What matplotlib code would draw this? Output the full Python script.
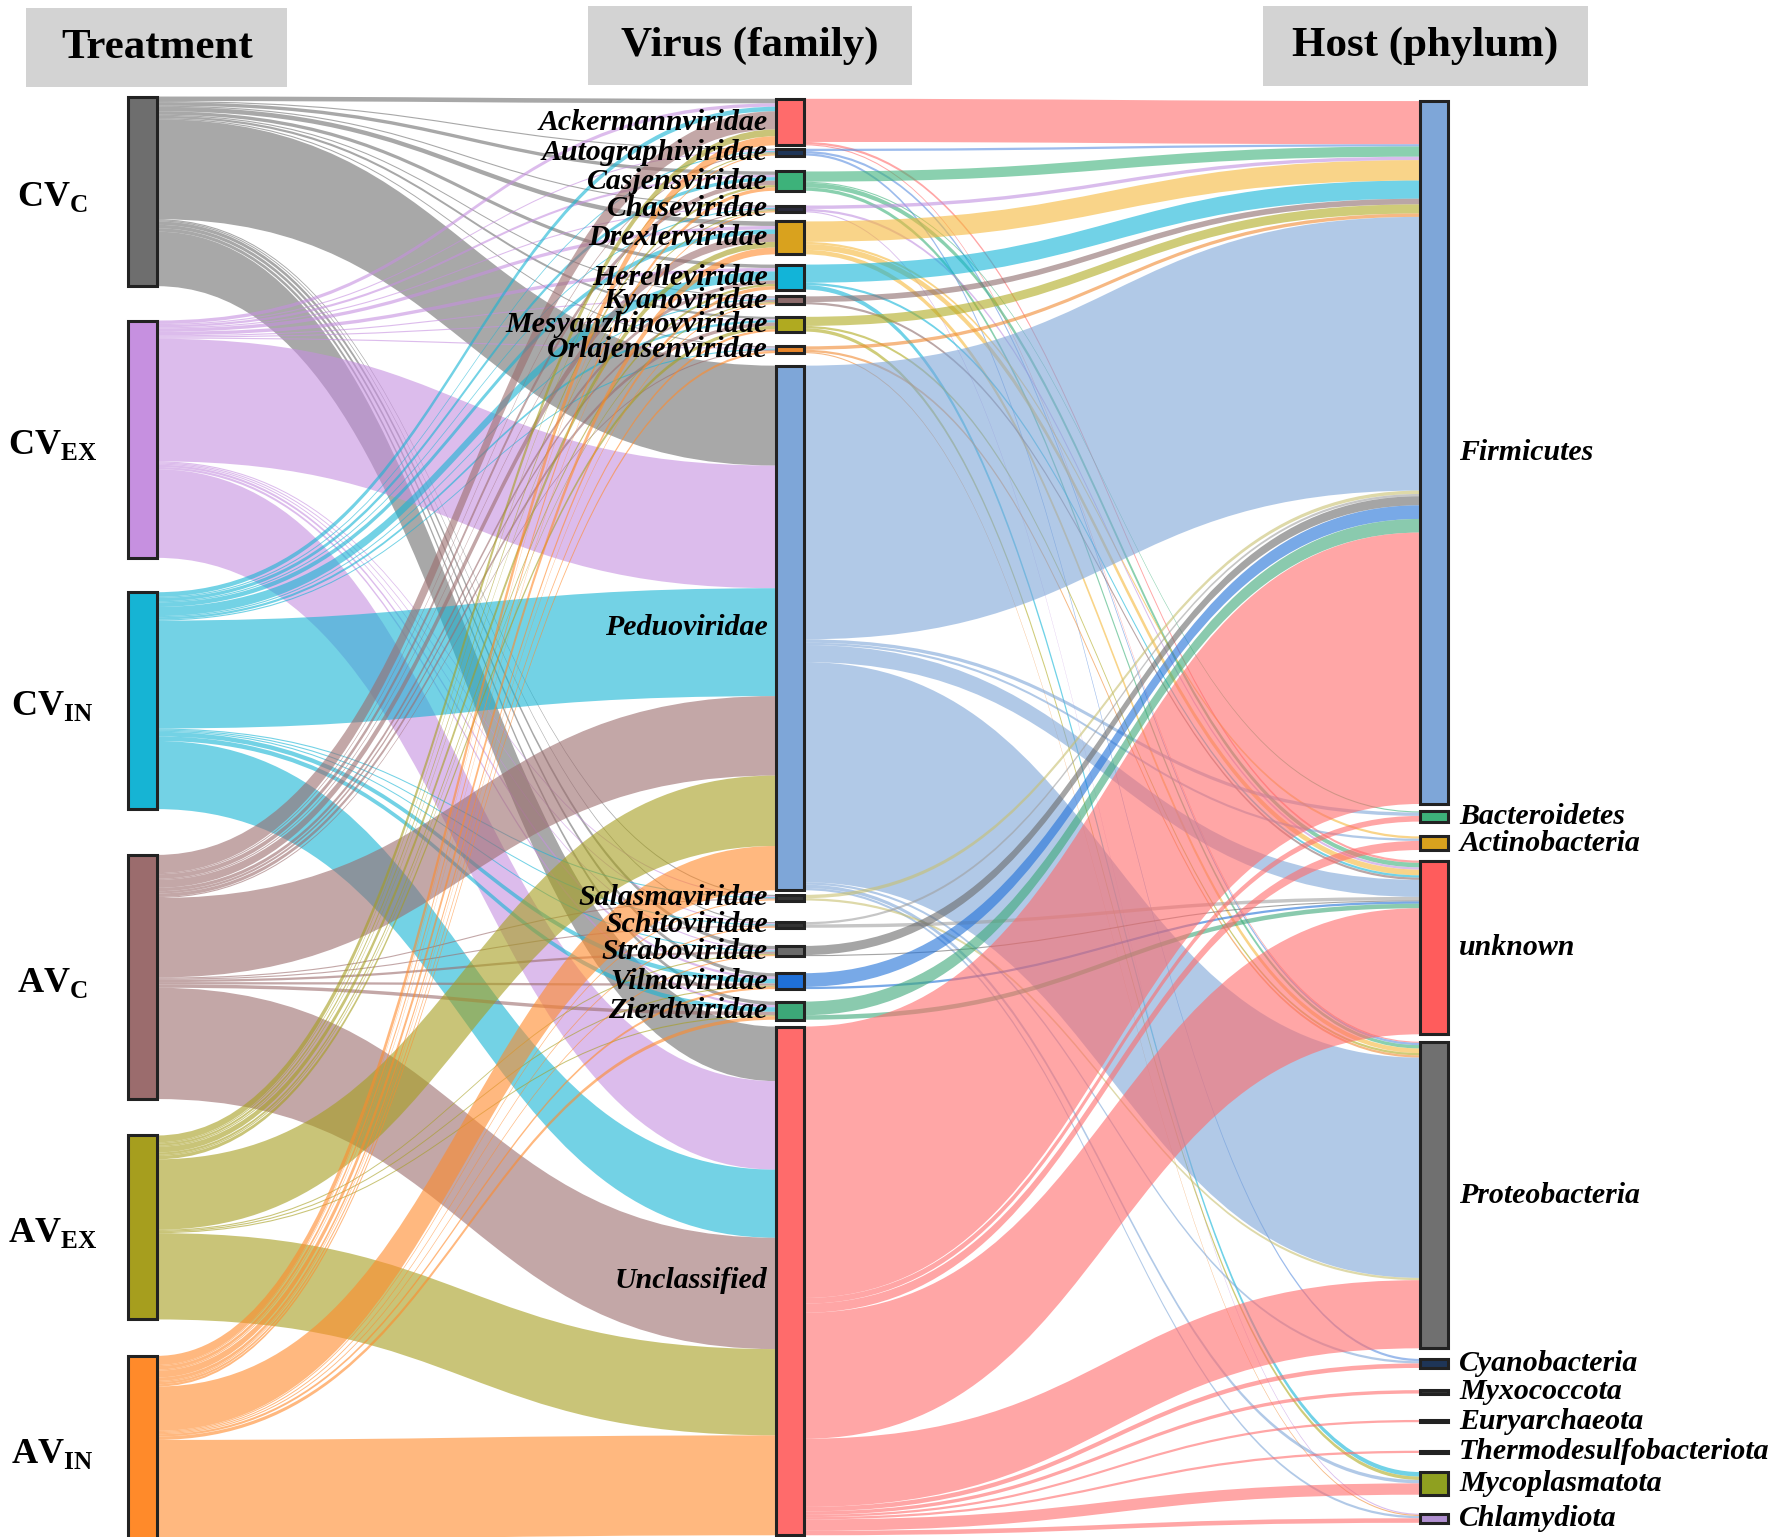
import numpy as np
import matplotlib.pyplot as plt
from matplotlib.path import Path
from matplotlib.patches import PathPatch, Rectangle

plt.rcParams['mathtext.fontset'] = 'custom'
plt.rcParams['mathtext.rm'] = 'Liberation Serif'
plt.rcParams['mathtext.bf'] = 'Liberation Serif:bold'
SERIF = 'Liberation Serif'

# ---- data ----
treat_labels = [r'$\mathbf{CV}_{\mathbf{C}}$', r'$\mathbf{CV}_{\mathbf{EX}}$', r'$\mathbf{CV}_{\mathbf{IN}}$',
                r'$\mathbf{AV}_{\mathbf{C}}$', r'$\mathbf{AV}_{\mathbf{EX}}$', r'$\mathbf{AV}_{\mathbf{IN}}$']
virus_names = ['Ackermannviridae', 'Autographiviridae', 'Casjensviridae', 'Chaseviridae',
               'Drexlerviridae', 'Herelleviridae', 'Kyanoviridae', 'Mesyanzhinovviridae',
               'Orlajensenviridae', 'Peduoviridae', 'Salasmaviridae', 'Schitoviridae',
               'Straboviridae', 'Vilmaviridae', 'Zierdtviridae', 'Unclassified']
host_names = ['Firmicutes', 'Bacteroidetes', 'Actinobacteria', 'unknown', 'Proteobacteria',
              'Cyanobacteria', 'Myxococcota', 'Euryarchaeota', 'Thermodesulfobacteriota',
              'Mycoplasmatota', 'Chlamydiota']

# treatment -> virus family (rows: treatments, cols: virus families)
treat_virus = np.array([
    [4, 1, 3, 1, 4, 3, 1, 2, 1, 88, 1, 1, 3, 3, 3, 48],
    [3, 1, 2, 1, 3, 3, 1, 1, 1, 108, 1, 1, 1, 2, 2, 78],
    [4, 1, 3, 1, 4, 8, 1, 2, 1, 95, 1, 1, 1, 4, 4, 60],
    [16, 1, 4, 1, 7, 3, 2, 3, 1, 70, 1, 1, 2, 2, 3, 98],
    [6, 1, 2, 1, 5, 2, 1, 3, 0, 62, 0, 0, 1, 1, 1, 76],
    [8, 1, 3, 1, 6, 3, 1, 2, 2, 39, 1, 1, 1, 2, 3, 88],
])

# virus family -> host phylum (rows: virus families, cols: hosts)
virus_host = np.array([
    [38, 0, 0, 2, 1, 0, 0, 0, 0, 0, 0],
    [2, 0, 0, 0, 2, 2, 0, 0, 0, 0, 0],
    [9, 1, 0, 4, 3, 0, 0, 0, 0, 0, 0],
    [3, 0, 0, 2, 0, 0, 0, 0, 0, 0, 1],
    [18, 0, 2, 5, 4, 0, 0, 0, 0, 0, 0],
    [16, 0, 0, 2, 0, 0, 0, 0, 0, 4, 0],
    [5, 0, 0, 2, 0, 0, 0, 0, 0, 0, 0],
    [8, 0, 0, 0, 2, 0, 0, 0, 0, 3, 0],
    [3, 0, 0, 0, 2, 0, 0, 0, 0, 0, 1],
    [241, 3, 2, 15, 194, 2, 0, 0, 0, 3, 2],
    [3, 0, 0, 0, 2, 0, 0, 0, 0, 0, 0],
    [2, 0, 0, 3, 0, 0, 0, 0, 0, 0, 0],
    [8, 0, 0, 1, 0, 0, 0, 0, 0, 0, 0],
    [12, 0, 0, 2, 0, 0, 0, 0, 0, 0, 0],
    [12, 0, 0, 4, 0, 0, 0, 0, 0, 0, 0],
    [239, 5, 8, 111, 60, 4, 3, 2, 2, 10, 4],
])

treat_colors = ['#6e6e6e', '#c690e0', '#16b4d4', '#9b6c6d', '#a69e1e', '#ff8a2a']
virus_colors = ['#ff6b6b', '#1e3557', '#3db27a', '#2a2a3a', '#d9a21e', '#12b4d8', '#8c6b6b',
                '#b0aa20', '#e8852a', '#7ea6d8', '#333333', '#333333', '#6a6a6a', '#1f70d8',
                '#3ca878', '#ff6b6b']
# flows leaving the dark virus nodes are drawn in lighter tones
virus_link_colors = ['#ff6b6b', '#5b8fe0', '#3db27a', '#c090e0', '#f5b83a', '#12b4d8', '#8c6b6b',
                     '#b0aa20', '#f08a30', '#7ea6d8', '#c8c070', '#a0a0a0', '#6a6a6a', '#1f70d8',
                     '#3ca878', '#ff6b6b']
host_colors = ['#7ea6d8', '#3db27a', '#d9a21e', '#ff5c5c', '#707070', '#1e3557', '#333333',
               '#333333', '#333333', '#8fa020', '#b08fd0']

# ---- layout (displayed pixel space) ----
W, H = 1563, 1353.5
node_w = 25
col_x = [113, 683, 1250]
col_top = [85, 87, 89]
col_bot = [1356, 1352, 1341]
gap_w = [[33, 33, 44, 35, 35],
         [3, 14, 13, 8, 9, 6, 11, 13, 11, 4, 19, 16, 15, 11, 6],
         [7, 14, 10, 7, 10, 21, 25, 27, 18, 18]]

treat_val = treat_virus.sum(1)
virus_val = np.maximum(treat_virus.sum(0), virus_host.sum(1))
host_val = virus_host.sum(0)
col_vals = [treat_val, virus_val, host_val]


def place(vals, top, bot, gw):
    gw = np.array(gw, float)
    gaps = (bot - top - vals.sum()) * gw / gw.sum()
    y0 = np.zeros(len(vals))
    y = top
    for i, v in enumerate(vals):
        y0[i] = y
        y += v
        if i < len(gaps):
            y += gaps[i]
    return y0


col_y = [place(col_vals[c], col_top[c], col_bot[c], gap_w[c]) for c in range(3)]


def link(ax, x0, x1, sy0, sy1, ty0, ty1, color, alpha=0.6):
    xm = (x0 + x1) / 2
    verts = [(x0, sy0), (xm, sy0), (xm, ty0), (x1, ty0),
             (x1, ty1), (xm, ty1), (xm, sy1), (x0, sy1), (x0, sy0)]
    codes = [Path.MOVETO, Path.CURVE4, Path.CURVE4, Path.CURVE4,
             Path.LINETO, Path.CURVE4, Path.CURVE4, Path.CURVE4, Path.CLOSEPOLY]
    ax.add_patch(PathPatch(Path(verts, codes), facecolor=color, edgecolor='none',
                           alpha=alpha, zorder=1))


fig = plt.figure(figsize=(17.75, 15.37), dpi=100)
ax = fig.add_axes([0, 0, 1, 1])
ax.set_xlim(0, W)
ax.set_ylim(H, 0)
ax.axis('off')

# links between columns
for c, (mat, colors) in enumerate([(treat_virus, treat_colors), (virus_host, virus_link_colors)]):
    x0 = col_x[c] + node_w
    x1 = col_x[c + 1]
    src_off = col_y[c].copy()
    tgt_off = col_y[c + 1].copy()
    # offsets at targets follow source order
    tgt_start = {}
    for i in range(mat.shape[0]):
        for j in range(mat.shape[1]):
            if mat[i, j] > 0:
                tgt_start[(i, j)] = tgt_off[j]
                tgt_off[j] += mat[i, j]
    for i in range(mat.shape[0]):
        for j in range(mat.shape[1]):
            v = mat[i, j]
            if v <= 0:
                continue
            sy0 = src_off[i]
            src_off[i] += v
            ty0 = tgt_start[(i, j)]
            link(ax, x0, x1, sy0, sy0 + v, ty0, ty0 + v, colors[i])

# nodes
for c, colors in enumerate([treat_colors, virus_colors, host_colors]):
    for i, v in enumerate(col_vals[c]):
        ax.add_patch(Rectangle((col_x[c], col_y[c][i]), node_w, v, facecolor=colors[i],
                               edgecolor='#222222', lw=2.2, zorder=3))

# labels
for i, lab in enumerate(treat_labels):
    ax.text(46, col_y[0][i] + treat_val[i] / 2 + 5, lab, ha='center', va='center', fontsize=26)
for i, lab in enumerate(virus_names):
    ax.text(col_x[1] - 7, col_y[1][i] + virus_val[i] / 2, lab, ha='right', va='center',
            fontsize=21.5, family=SERIF, fontweight='bold', style='italic', zorder=4)
for i, lab in enumerate(host_names):
    ax.text(col_x[2] + node_w + 10, col_y[2][i] + host_val[i] / 2, lab, ha='left', va='center',
            fontsize=21.5, family=SERIF, fontweight='bold', style='italic', zorder=4)

# column headers
headers = ['Treatment', 'Virus (family)', 'Host (phylum)']
for (hx, hy, hw, hh), txt in zip([(23, 7, 230, 70), (518, 5, 285, 70), (1112, 5, 286, 71)], headers):
    ax.add_patch(Rectangle((hx, hy), hw, hh, facecolor='#d3d3d3', edgecolor='none', zorder=2))
    ax.text(hx + hw / 2, hy + hh / 2, txt, ha='center', va='center', fontsize=31,
            family=SERIF, fontweight='bold', zorder=4)

fig.savefig('out.png', dpi=100)
